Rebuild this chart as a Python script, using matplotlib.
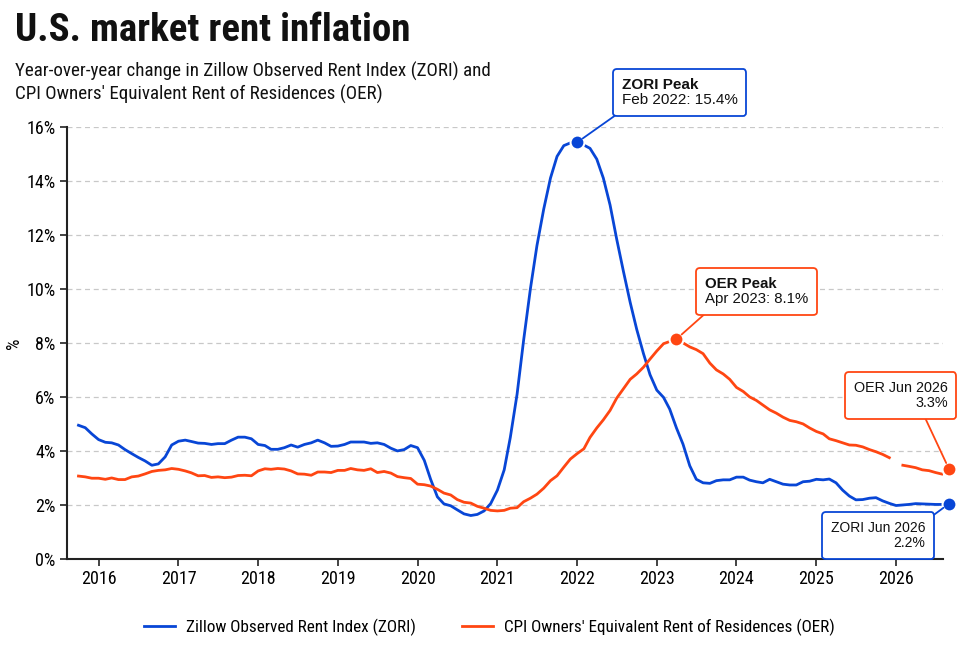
import numpy as np
import pandas as pd
import matplotlib
matplotlib.use('Agg')
import matplotlib.pyplot as plt
from matplotlib import font_manager
from matplotlib.offsetbox import AnnotationBbox, TextArea, VPacker

# fonts: a condensed face for titles / axes, a regular face for the callouts
names = {f.name for f in font_manager.fontManager.ttflist}
narrow = 'Liberation Sans'
for cand in ['Roboto Condensed', 'Liberation Sans Narrow', 'Asap Condensed', 'Barlow Semi Condensed']:
    if cand in names:
        narrow = cand
        break
plt.rcParams['font.family'] = [narrow, 'DejaVu Sans']
box_font = ['Liberation Sans', 'DejaVu Sans']

# monthly data, Oct 2015 .. Sep 2026
dates = pd.date_range('2015-10-01', '2026-09-01', freq='MS')

zori = [
    4.95, 4.86, 4.63,
    4.42, 4.32, 4.30, 4.22, 4.05, 3.90, 3.76, 3.63, 3.47, 3.52, 3.78, 4.22,
    4.36, 4.40, 4.35, 4.29, 4.28, 4.24, 4.27, 4.27, 4.40, 4.51, 4.51, 4.45,
    4.24, 4.20, 4.06, 4.06, 4.12, 4.22, 4.14, 4.24, 4.30, 4.40, 4.30, 4.17,
    4.18, 4.24, 4.33, 4.33, 4.33, 4.28, 4.30, 4.24, 4.10, 4.00, 4.05, 4.20,
    4.12, 3.65, 2.95, 2.30, 2.04, 1.97, 1.82, 1.67, 1.61, 1.65, 1.78, 2.05,
    2.55, 3.30, 4.50, 6.10, 8.10, 10.00, 11.60, 12.95, 14.10, 14.90, 15.30, 15.40,
    15.42, 15.32, 15.20, 14.80, 14.10, 13.10, 11.85, 10.65, 9.50, 8.50, 7.60, 6.82,
    6.25, 5.98, 5.55, 4.85, 4.25, 3.45, 2.95, 2.82, 2.80, 2.90, 2.93, 2.93,
    3.03, 3.03, 2.92, 2.86, 2.82, 2.95, 2.86, 2.77, 2.74, 2.74, 2.86, 2.88,
    2.95, 2.93, 2.96, 2.82, 2.55, 2.33, 2.19, 2.20, 2.25, 2.27, 2.15, 2.06,
    1.98, 2.00, 2.02, 2.05, 2.04, 2.03, 2.02, 2.02, 2.05,
]

oer = [
    3.07, 3.04, 2.99,
    2.99, 2.95, 3.00, 2.94, 2.94, 3.04, 3.07, 3.15, 3.24, 3.28, 3.30, 3.35,
    3.32, 3.26, 3.19, 3.08, 3.09, 3.02, 3.04, 3.01, 3.03, 3.09, 3.10, 3.08,
    3.26, 3.34, 3.32, 3.35, 3.33, 3.26, 3.15, 3.14, 3.10, 3.22, 3.22, 3.20,
    3.28, 3.28, 3.35, 3.30, 3.28, 3.34, 3.20, 3.24, 3.18, 3.05, 3.01, 2.98,
    2.77, 2.75, 2.70, 2.58, 2.44, 2.37, 2.20, 2.10, 2.07, 1.95, 1.88, 1.80,
    1.78, 1.80, 1.88, 1.90, 2.12, 2.25, 2.40, 2.62, 2.90, 3.08, 3.40, 3.70,
    3.90, 4.08, 4.50, 4.85, 5.15, 5.50, 5.95, 6.30, 6.65, 6.85, 7.10, 7.40,
    7.70, 7.97, 8.05, 8.14, 8.00, 7.85, 7.75, 7.60, 7.25, 7.00, 6.85, 6.65,
    6.35, 6.20, 6.00, 5.87, 5.70, 5.52, 5.40, 5.25, 5.13, 5.08, 5.00, 4.85,
    4.72, 4.63, 4.45, 4.38, 4.30, 4.22, 4.21, 4.15, 4.05, 3.97, 3.87, 3.75,
    np.nan, 3.47, 3.43, 3.38, 3.30, 3.27, 3.20, 3.14, 3.32,
]

years = list(range(2016, 2027))
year_ticks = pd.to_datetime([f'{y}-01-01' for y in years])
y_ticks = list(range(0, 17, 2))

zori_label = 'Zillow Observed Rent Index (ZORI)'
oer_label = "CPI Owners' Equivalent Rent of Residences (OER)"
zori_peak_text = ['ZORI Peak', 'Feb 2022: 15.4%']
oer_peak_text = ['OER Peak', 'Apr 2023: 8.1%']
oer_last_text = ['OER Jun 2026', '3.3%']
zori_last_text = ['ZORI Jun 2026', '2.2%']

blue = '#0846d6'
orange = '#ff4612'

zori_s = pd.Series(zori, index=dates)
oer_s = pd.Series(oer, index=dates)

fig = plt.figure(figsize=(9.75, 6.61), dpi=100)
ax = fig.add_axes([0.0684, 0.1543, 0.8988, 0.654])

ax.plot(zori_s.index, zori_s.values, color=blue, lw=2.0, label=zori_label)
ax.plot(oer_s.index, oer_s.values, color=orange, lw=2.0, label=oer_label)

ax.set_xlim(pd.Timestamp('2015-08-08'), pd.Timestamp('2026-08-04'))
ax.set_ylim(0, 16)
ax.set_xticks(year_ticks)
ax.set_xticklabels([str(y) for y in years])
ax.set_yticks(y_ticks)
ax.set_yticklabels([f'{v}%' for v in y_ticks])
ax.tick_params(labelsize=13, length=5, width=1.2, color='#222222', pad=3)
ax.yaxis.grid(True, linestyle=(0, (4, 3)), color='#c8c8c8', lw=0.9)
ax.set_axisbelow(True)
for side in ['top', 'right']:
    ax.spines[side].set_visible(False)
for side in ['left', 'bottom']:
    ax.spines[side].set_color('#222222')
    ax.spines[side].set_linewidth(1.5)
ax.set_ylabel('%', fontsize=13)
ax.yaxis.set_label_coords(-0.05, 0.5)

# highlighted points
zp = zori_s.idxmax()
op = oer_s.idxmax()
zl = zori_s.index[-1]
ol = oer_s.index[-1]
pts = [(zp, zori_s[zp], blue), (op, oer_s[op], orange),
       (ol, oer_s[ol], orange), (zl, zori_s[zl], blue)]
for d, v, c in pts:
    ax.plot([d], [v], 'o', ms=10, color=c, mec='white', mew=1.5, zorder=6, clip_on=False)


def callout(xy, xybox, lines, color, align, relpos, size):
    kids = []
    for i, s in enumerate(lines):
        w = 'bold' if (align == 'left' and i == 0) else 'normal'
        kids.append(TextArea(s, textprops=dict(fontsize=size, fontweight=w,
                                               color='#111111', family=box_font)))
    pack = VPacker(children=kids, align=align, pad=0, sep=1)
    ab = AnnotationBbox(pack, xy, xybox=xybox, xycoords='data',
                        boxcoords='figure pixels', box_alignment=(0, 1),
                        frameon=True, fontsize=10,
                        bboxprops=dict(edgecolor=color, facecolor='white', lw=1.3,
                                       boxstyle='round,pad=0.62,rounding_size=0.25'),
                        arrowprops=dict(arrowstyle='-', color=color, lw=1.3,
                                        relpos=relpos, patchA=None,
                                        shrinkA=0, shrinkB=5),
                        annotation_clip=False, zorder=7)
    ax.add_artist(ab)


callout((zp, zori_s[zp]), (622, 583), zori_peak_text, blue, 'left', (0.04, 0), 11)
callout((op, oer_s[op]), (705, 384), oer_peak_text, orange, 'left', (0.08, 0), 10.8)
callout((ol, oer_s[ol]), (854, 280), oer_last_text, orange, 'right', (0.72, 0), 10.4)
callout((zl, zori_s[zl]), (831, 140), zori_last_text, blue, 'right', (1, 1), 10.0)

fig.text(15 / 975, 1 - 41 / 661, 'U.S. market rent inflation', fontsize=28,
         fontweight='bold', color='#111111', va='baseline')
fig.text(15 / 975, 1 - 77 / 661, 'Year-over-year change in Zillow Observed Rent Index (ZORI) and',
         fontsize=13.7, color='#111111', va='baseline')
fig.text(15 / 975, 1 - 100 / 661, "CPI Owners' Equivalent Rent of Residences (OER)",
         fontsize=13.7, color='#111111', va='baseline')

fig.legend(loc='center', bbox_to_anchor=(0.502, 1 - 627 / 661), ncol=2, frameon=False,
           fontsize=12.3, handlelength=1.8, handletextpad=0.65, columnspacing=2.7)

fig.savefig('out.png', dpi=100, facecolor='white')
